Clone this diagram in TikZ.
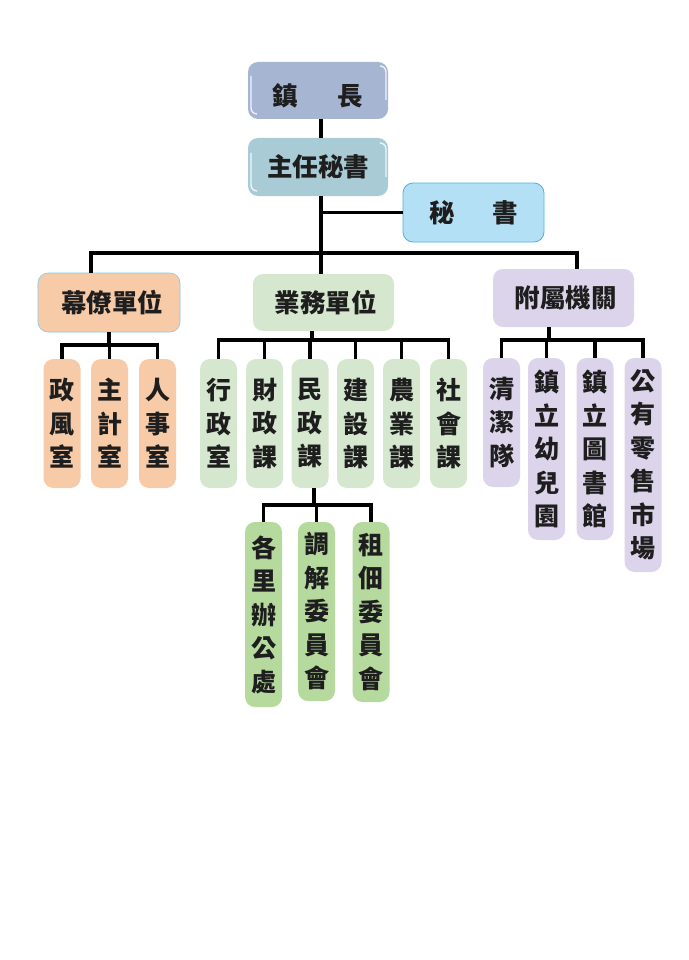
\documentclass[tikz,border=0pt]{standalone}
\usepackage{fontspec}
\newfontfamily\cjk{Noto Sans CJK TC}
\definecolor{czhen}{HTML}{A6B5D2}
\definecolor{czhuren}{HTML}{A8CBD6}
\definecolor{cmishu}{HTML}{B4E0F5}
\definecolor{cmishub}{HTML}{4FB0E2}
\definecolor{cpeach}{HTML}{F8CBA8}
\definecolor{cgreen}{HTML}{D5E8CF}
\definecolor{cgreenb}{HTML}{B6D99E}
\definecolor{clav}{HTML}{DBD4EA}
\definecolor{ctext}{HTML}{1E1E1E}
\tikzset{
  box/.style={rounded corners=10pt, inner sep=0pt, text=ctext,
    font=\cjk\bfseries\fontsize{25.5}{28}\selectfont},
  hbox/.style={box},
  vbox/.style={box, minimum width=37pt, align=center,
    font=\cjk\bfseries\fontsize{25}{33.5}\selectfont},
  conn/.style={line width=3.2pt, draw=black},
  shine/.style={draw=white, line width=1.3pt, opacity=0.85}
}
\begin{document}
\begin{tikzpicture}[x=1pt,y=-1pt]
\useasboundingbox (0,0) rectangle (688,960);
\fill[white] (0,0) rectangle (688,960);

% top boxes
\node[hbox, fill=czhen, minimum width=140pt, minimum height=57pt] (zhen) at (318,90.5) {\raisebox{-5pt}[\height][\depth]{鎮\hspace{40pt}長}};
\node[hbox, fill=czhuren, minimum width=140pt, minimum height=58pt] (zhuren) at (318,167) {主任秘書};
\node[hbox, fill=cmishu, draw=cmishub, line width=0.8pt, minimum width=141pt, minimum height=59pt] (mishu) at (473.5,212.5) {秘\hspace{38pt}書};

% highlights
\draw[shine] (251,76) -- (251,108) to[out=-90,in=180] (257,114);
\draw[shine] (380,66) to[out=0,in=90] (386,72) -- (386,100);
\draw[shine] (251,153) -- (251,185) to[out=-90,in=180] (257,191);
\draw[shine] (380,143) to[out=0,in=90] (386,149) -- (386,177);

% group boxes
\node[hbox, fill=cpeach, draw=cmishub!70, line width=0.6pt, minimum width=142pt, minimum height=59pt] (mu) at (109,302.5) {\hspace{6pt}幕僚單位};
\node[hbox, fill=cgreen, minimum width=141pt, minimum height=57pt] (ye) at (323.5,302.5) {\hspace{4pt}業務單位};
\node[hbox, fill=clav, minimum width=141pt, minimum height=58pt] (fu) at (563.5,298) {\hspace{4pt}附屬機關};

% junction coordinates
\coordinate (tx) at (321,253);
\coordinate (hl) at (91,253);
\coordinate (hr) at (577,253);

% trunk
\draw[conn] (zhen.south -| tx) -- (zhuren.north -| tx);
\draw[conn] (zhuren.south -| tx) -- (tx);
\draw[conn] (mishu.west -| tx) -- (mishu.west);
\draw[conn] (hl |- mu.north) -- (hl) -- (hr) -- (hr |- fu.north);
\draw[conn] (tx) -- (tx |- ye.north);

% left sub boxes
\node[vbox, fill=cpeach, minimum height=129pt] (zf) at (62,423.5) {政\\風\\室};
\node[vbox, fill=cpeach, minimum height=129pt] (zj) at (109.5,423.5) {主\\計\\室};
\node[vbox, fill=cpeach, minimum height=129pt] (rs) at (157.5,423.5) {人\\事\\室};
\coordinate (mj) at (109,345);
\draw[conn] (mj |- mu.south) -- (mj);
\draw[conn] (zf.north) |- (mj) -| (rs.north);
\draw[conn] (zj.north) -- (zj.north |- mj);

% middle sub boxes
\node[vbox, fill=cgreen, minimum height=129pt] (xz) at (218.5,423.5) {行\\政\\室};
\node[vbox, fill=cgreen, minimum height=129pt] (cz) at (264.5,423.5) {財\\政\\課};
\node[vbox, fill=cgreen, minimum height=129pt] (mz) at (310,423.5) {民\\政\\課};
\node[vbox, fill=cgreen, minimum height=129pt] (js) at (355.5,423.5) {建\\設\\課};
\node[vbox, fill=cgreen, minimum height=129pt] (ny) at (401.5,423.5) {農\\業\\課};
\node[vbox, fill=cgreen, minimum height=129pt] (sh) at (448.5,423.5) {社\\會\\課};
\coordinate (yj) at (312,340);
\draw[conn] (yj |- ye.south) -- (yj);
\draw[conn] (xz.north) |- (yj) -| (sh.north);
\foreach \n in {cz,mz,js,ny} \draw[conn] (\n.north) -- (\n.north |- yj);

% lower sub boxes
\node[vbox, fill=cgreenb, minimum height=185pt] (gl) at (263.5,614.5) {各\\里\\辦\\公\\處};
\node[vbox, fill=cgreenb, minimum height=179pt] (tj) at (316.5,611.5) {調\\解\\委\\員\\會};
\node[vbox, fill=cgreenb, minimum height=180pt] (zd) at (371,612) {租\\佃\\委\\員\\會};
\coordinate (lj) at (314,505);
\draw[conn] (lj |- mz.south) -- (lj);
\draw[conn] (gl.north) |- (lj) -| (zd.north);
\draw[conn] (tj.north) -- (tj.north |- lj);

% right sub boxes
\node[vbox, fill=clav, minimum height=129pt] (qj) at (501.5,422.5) {清\\潔\\隊};
\node[vbox, fill=clav, minimum height=182pt] (yr) at (546.5,449) {鎮\\立\\幼\\兒\\園};
\node[vbox, fill=clav, minimum height=182pt] (ts) at (595,449) {鎮\\立\\圖\\書\\館};
\node[vbox, fill=clav, minimum height=214pt] (sc) at (643,465) {公\\有\\零\\售\\市\\場};
\coordinate (fj) at (549,340);
\draw[conn] (fj |- fu.south) -- (fj);
\draw[conn] (qj.north) |- (fj) -| (sc.north);
\foreach \n in {yr,ts} \draw[conn] (\n.north) -- (\n.north |- fj);
\end{tikzpicture}
\end{document}
